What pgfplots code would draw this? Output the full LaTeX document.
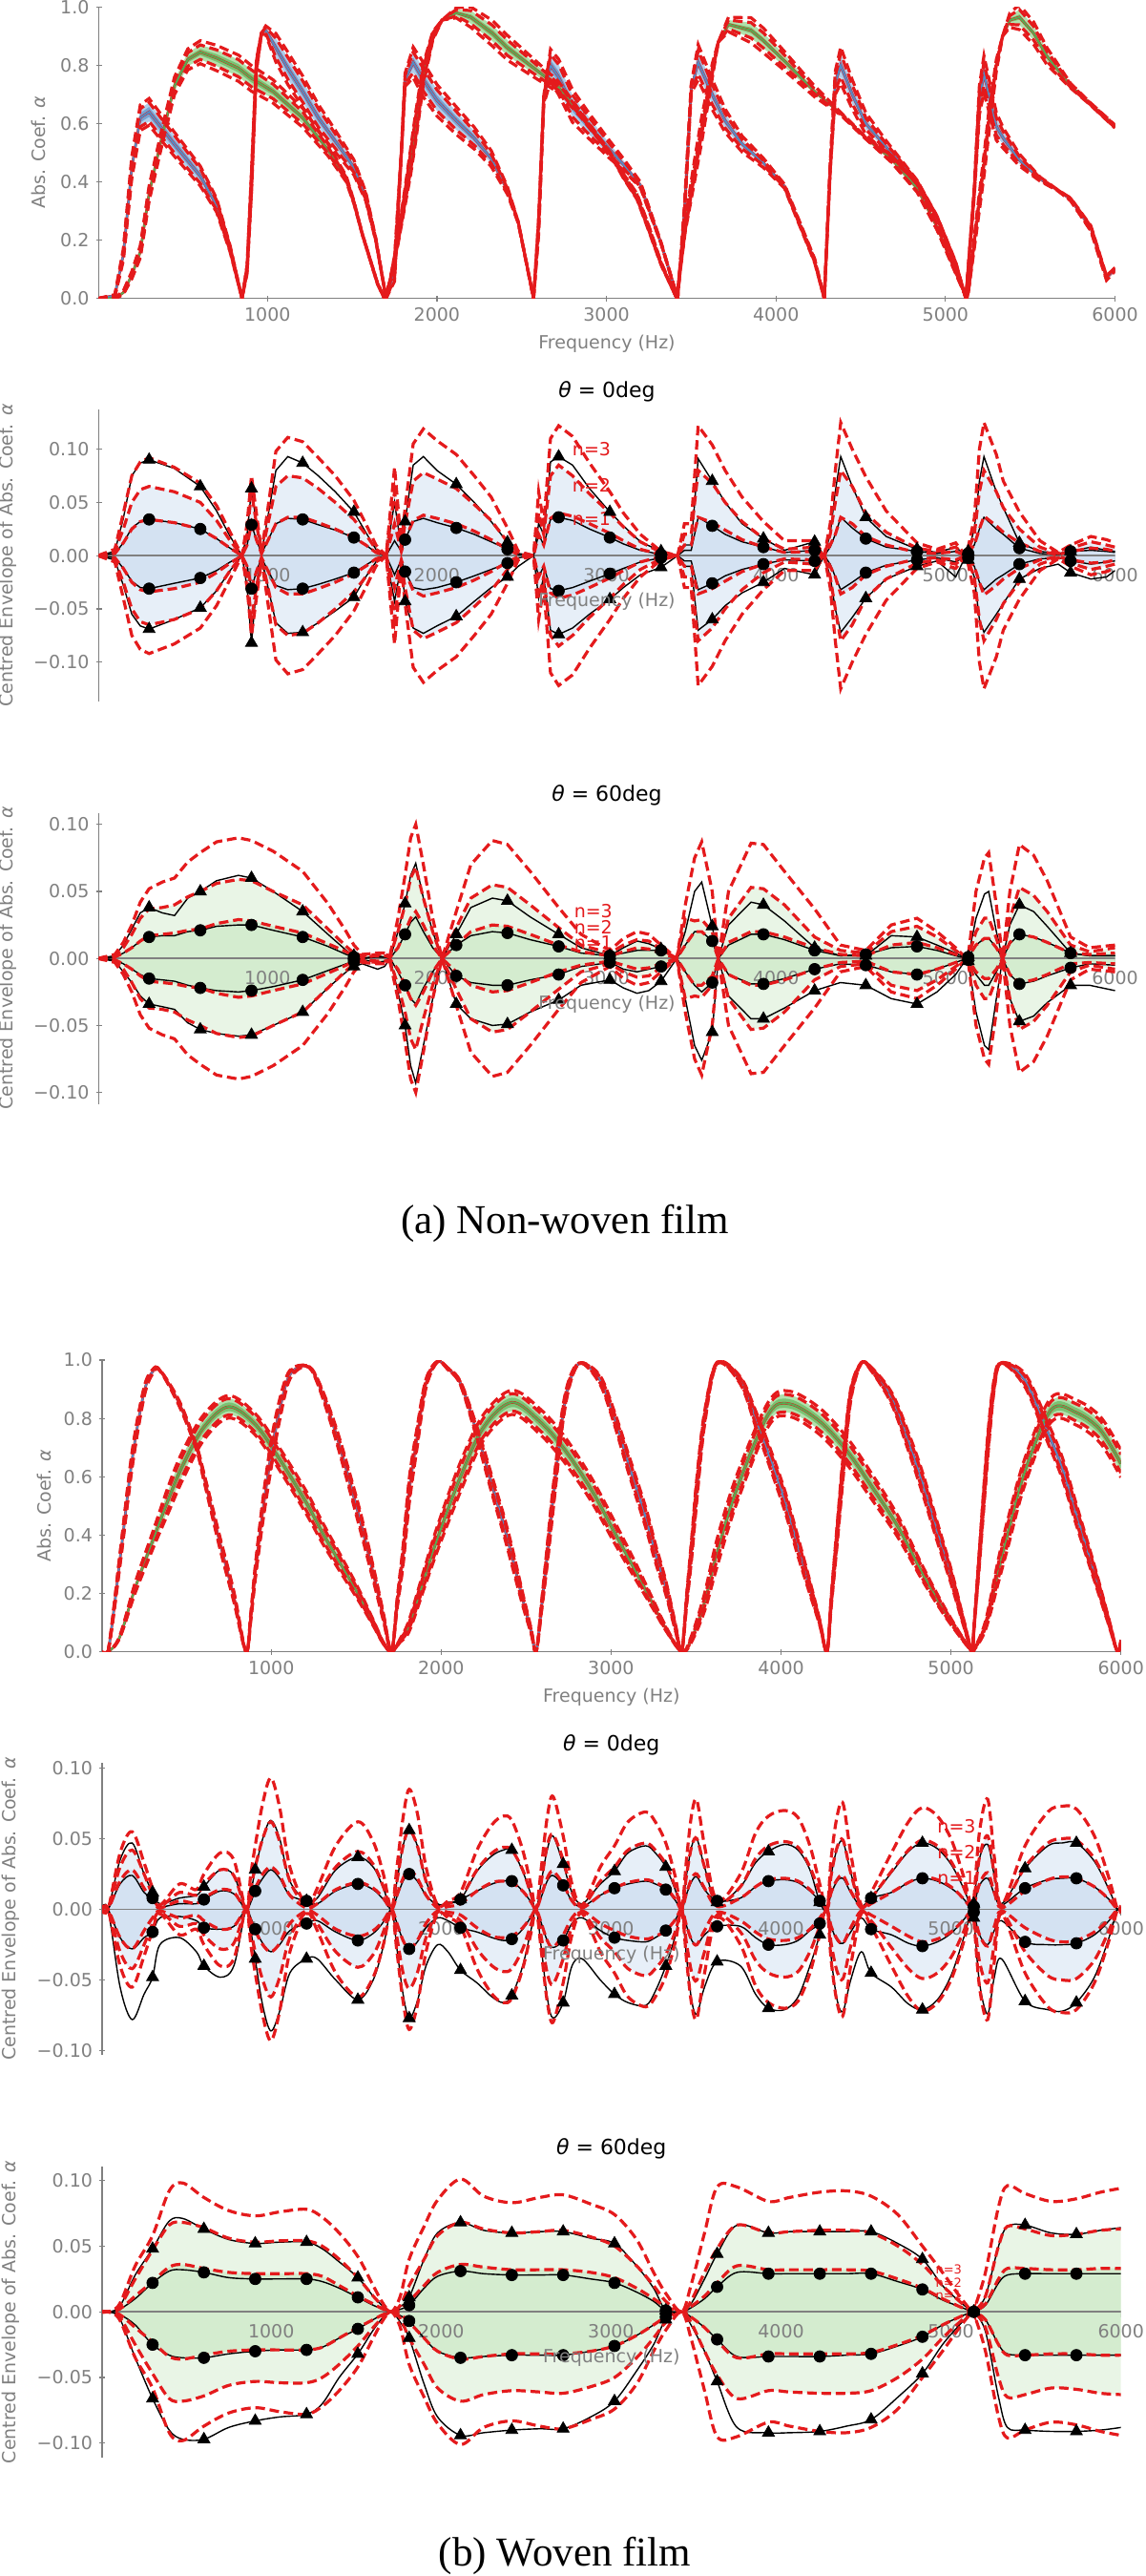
\documentclass[border=0pt]{standalone}
\usepackage{fontspec}
\setmainfont{DejaVu Sans}
\newfontfamily\capfont{Liberation Serif}
\usepackage{pgfplots}
\usepackage{pgfplotstable}
\pgfplotsset{compat=1.18}
\usepgfplotslibrary{fillbetween}

\definecolor{myred}{RGB}{228,26,28}
\definecolor{axgray}{RGB}{128,128,128}
\definecolor{bM}{RGB}{178,206,234}
\definecolor{bI}{RGB}{118,165,212}
\definecolor{bC}{RGB}{82,140,198}
\definecolor{gM}{RGB}{178,224,172}
\definecolor{gI}{RGB}{122,196,116}
\definecolor{gC}{RGB}{86,172,82}
\definecolor{bP}{RGB}{231,239,248}
\definecolor{bQ}{RGB}{212,226,242}
\definecolor{gP}{RGB}{233,245,230}
\definecolor{gQ}{RGB}{212,236,207}

\newcommand{\tk}{\fontsize{9.5}{11}\selectfont}
\newcommand{\ttl}{\fontsize{11}{13}\selectfont}
\newcommand{\capsz}{\capfont\fontsize{21.5}{24}\selectfont}

% columns: x  mean  d1 d2 d3 (n-sigma envelopes)  a1 a2 (upper black)  c1 c2 (lower black)  k (marker row)
\pgfplotstableread{
x m d1 d2 d3 a1 a2 c1 c2 k
0 0 0 0 0 0 0 0 0 1
100 0.01 0.002 0.004 0.006 0.002 0.004 -0.002 -0.004 0
150 0.15 0.012 0.025 0.040 0.012 0.035 -0.012 -0.028 0
200 0.45 0.025 0.050 0.075 0.026 0.075 -0.024 -0.055 0
250 0.62 0.032 0.062 0.088 0.032 0.087 -0.030 -0.066 0
302 0.64 0.034 0.065 0.092 0.034 0.090 -0.031 -0.069 1
450 0.53 0.031 0.060 0.083 0.031 0.082 -0.026 -0.060 0
604 0.42 0.025 0.050 0.068 0.025 0.065 -0.021 -0.049 1
700 0.32 0.016 0.033 0.047 0.016 0.042 -0.014 -0.033 0
780 0.17 0.007 0.014 0.022 0.007 0.018 -0.006 -0.014 0
850 0 0 0 0 0 0 0 0 0
880 0.10 0.010 0.020 0.030 0.010 0.020 -0.010 -0.030 0
906 0.40 0.030 0.060 0.075 0.029 0.063 -0.031 -0.082 1
935 0.80 0.015 0.030 0.040 0.015 0.030 -0.015 -0.030 0
965 0.91 0.002 0.003 0.004 0.002 0.003 -0.002 -0.004 0
990 0.92 0.010 0.020 0.030 0.010 0.025 -0.010 -0.020 0
1050 0.86 0.030 0.065 0.098 0.030 0.080 -0.028 -0.063 0
1120 0.79 0.036 0.075 0.111 0.035 0.093 -0.032 -0.073 0
1208 0.71 0.036 0.073 0.107 0.034 0.087 -0.031 -0.072 1
1300 0.62 0.031 0.063 0.092 0.029 0.075 -0.027 -0.063 0
1400 0.54 0.025 0.050 0.075 0.024 0.060 -0.022 -0.052 0
1510 0.45 0.017 0.034 0.052 0.017 0.041 -0.016 -0.039 1
1580 0.35 0.010 0.020 0.030 0.010 0.022 -0.009 -0.020 0
1640 0.20 0.003 0.006 0.010 0.003 0.006 -0.003 -0.006 0
1700 0 0 0 0 0 0 0 0 0
1750 0.10 0.030 0.060 0.083 0.014 0.050 -0.018 -0.043 0
1790 0.50 0.004 0.008 0.010 0.004 0.006 -0.004 -0.008 0
1812 0.75 0.015 0.030 0.045 0.015 0.032 -0.015 -0.043 1
1860 0.81 0.033 0.070 0.105 0.032 0.085 -0.030 -0.068 0
1920 0.75 0.038 0.078 0.119 0.035 0.093 -0.032 -0.073 0
2000 0.68 0.035 0.072 0.108 0.031 0.080 -0.030 -0.066 0
2114 0.61 0.030 0.063 0.095 0.026 0.067 -0.025 -0.057 1
2220 0.55 0.023 0.048 0.075 0.020 0.050 -0.019 -0.043 0
2320 0.48 0.015 0.033 0.055 0.013 0.032 -0.013 -0.030 0
2416 0.37 0.006 0.013 0.026 0.006 0.0125 -0.007 -0.020 1
2480 0.26 0.001 0.003 0.004 0.001 0.002 -0.002 -0.010 0
2570 0 0 0 0 0 0 0 0 0
2600 0.25 0.020 0.040 0.060 0.020 0.030 -0.020 -0.040 0
2630 0.68 0.010 0.020 0.030 0.010 0.020 -0.010 -0.020 0
2670 0.80 0.035 0.075 0.110 0.034 0.088 -0.031 -0.070 0
2718 0.76 0.040 0.085 0.122 0.036 0.093 -0.033 -0.074 1
2800 0.66 0.037 0.075 0.112 0.033 0.085 -0.030 -0.068 0
2900 0.59 0.030 0.058 0.087 0.025 0.063 -0.024 -0.055 0
3020 0.51 0.021 0.040 0.060 0.017 0.041 -0.017 -0.041 1
3100 0.46 0.014 0.027 0.040 0.011 0.028 -0.012 -0.030 0
3200 0.39 0.006 0.013 0.020 0.005 0.013 -0.006 -0.018 0
3322 0.19 0.001 0.003 0.004 0.001 0.004 -0.002 -0.011 1
3420 0 0 0 0 0 0 0 0 0
3460 0.30 0.010 0.020 0.030 0.005 0.010 -0.005 -0.010 0
3500 0.72 0.010 0.020 0.030 0.005 0.010 -0.005 -0.010 0
3541 0.81 0.036 0.080 0.122 0.036 0.091 -0.032 -0.070 0
3624 0.70 0.031 0.068 0.104 0.028 0.070 -0.026 -0.060 1
3700 0.61 0.024 0.050 0.080 0.020 0.050 -0.019 -0.047 0
3800 0.53 0.015 0.032 0.055 0.013 0.030 -0.013 -0.035 0
3926 0.465 0.008 0.016 0.032 0.008 0.016 -0.008 -0.025 1
4050 0.385 0.003 0.006 0.014 0.003 0.005 -0.004 -0.012 0
4228 0.13 0.004 0.008 0.014 0.005 0.013 -0.005 -0.018 1
4285 0 0 0 0 0 0 0 0 0
4320 0.45 0.010 0.020 0.030 0.008 0.020 -0.008 -0.020 0
4350 0.74 0.020 0.050 0.080 0.020 0.060 -0.020 -0.050 0
4382 0.80 0.036 0.080 0.125 0.036 0.093 -0.032 -0.072 0
4450 0.70 0.030 0.065 0.100 0.026 0.065 -0.025 -0.058 0
4530 0.60 0.018 0.040 0.074 0.016 0.036 -0.016 -0.040 1
4650 0.52 0.010 0.022 0.042 0.008 0.018 -0.009 -0.022 0
4832 0.40 0.003 0.007 0.012 0.004 0.006 -0.004 -0.010 1
4950 0.28 0.002 0.004 0.006 0.002 0.003 -0.002 -0.005 0
5060 0.12 0.004 0.008 0.012 0.004 0.008 -0.006 -0.020 0
5120 0 0 0 0 0 0 0 0 0
5134 0.10 0.003 0.005 0.008 0.002 0.004 -0.002 -0.004 1
5170 0.37 0.010 0.020 0.035 0.010 0.025 -0.010 -0.020 0
5200 0.68 0.025 0.060 0.100 0.025 0.070 -0.025 -0.060 0
5227 0.77 0.037 0.080 0.125 0.036 0.093 -0.032 -0.072 0
5300 0.59 0.028 0.060 0.095 0.025 0.060 -0.022 -0.055 0
5341 0.55 0.022 0.045 0.070 0.020 0.045 -0.018 -0.045 0
5436 0.475 0.012 0.025 0.041 0.007 0.012 -0.008 -0.022 1
5557 0.41 0.004 0.008 0.014 0.002 0.004 -0.003 -0.012 0
5665 0.37 0.001 0.002 0.003 0.001 0.002 -0.002 -0.008 0
5738 0.34 0.004 0.007 0.010 0.004 0.004 -0.005 -0.016 1
5858 0.24 0.007 0.013 0.018 0.005 0.008 -0.008 -0.022 0
5950 0.07 0.006 0.010 0.015 0.004 0.005 -0.006 -0.020 0
6000 0.10 0.004 0.008 0.012 0.003 0.004 -0.005 -0.014 0
}\NWa

\pgfplotstableread{
x m d1 d2 d3 a1 a2 c1 c2 k
0 0 0 0 0 0 0 0 0 1
100 0 0.001 0.002 0.003 0.001 0.002 -0.001 -0.002 0
150 0.02 0.004 0.008 0.012 0.004 0.010 -0.004 -0.010 0
200 0.08 0.008 0.018 0.025 0.008 0.022 -0.008 -0.018 0
250 0.16 0.013 0.030 0.042 0.013 0.034 -0.012 -0.028 0
302 0.36 0.017 0.037 0.052 0.016 0.038 -0.015 -0.034 1
380 0.56 0.018 0.038 0.057 0.017 0.034 -0.016 -0.036 0
452 0.73 0.019 0.040 0.060 0.017 0.032 -0.017 -0.038 0
530 0.82 0.021 0.046 0.072 0.020 0.045 -0.020 -0.048 0
604 0.845 0.022 0.050 0.079 0.021 0.050 -0.022 -0.053 1
700 0.825 0.026 0.056 0.087 0.024 0.058 -0.024 -0.056 0
829 0.79 0.029 0.059 0.090 0.025 0.062 -0.025 -0.058 0
906 0.755 0.028 0.058 0.088 0.025 0.060 -0.024 -0.057 1
1034 0.71 0.024 0.050 0.080 0.021 0.050 -0.021 -0.050 0
1208 0.62 0.019 0.040 0.065 0.016 0.035 -0.016 -0.040 1
1357 0.51 0.011 0.022 0.041 0.009 0.018 -0.009 -0.022 0
1465 0.41 0.005 0.009 0.020 0.003 0.006 -0.004 -0.010 0
1510 0.33 0.002 0.004 0.010 0.001 0.002 -0.002 -0.006 1
1560 0.22 0.001 0.002 0.003 0 0 -0.001 -0.004 0
1650 0.05 0.002 0.003 0.004 0.001 0.002 -0.003 -0.008 0
1691 0 0.002 0.003 0.004 0.001 0.001 -0.002 -0.006 0
1724 0.06 0.001 0.002 0.003 0 0 0 0 0
1770 0.20 0.008 0.020 0.030 0.008 0.020 -0.010 -0.025 0
1812 0.35 0.020 0.040 0.062 0.018 0.041 -0.020 -0.050 1
1845 0.47 0.030 0.060 0.090 0.027 0.062 -0.030 -0.080 0
1875 0.59 0.035 0.068 0.100 0.031 0.071 -0.034 -0.093 0
1920 0.77 0.025 0.045 0.070 0.020 0.045 -0.022 -0.065 0
1975 0.90 0.010 0.020 0.030 0.008 0.020 -0.010 -0.030 0
2030 0.955 0 0 0 0 0 0 0 0
2114 0.98 0.010 0.023 0.035 0.010 0.018 -0.013 -0.034 1
2200 0.965 0.020 0.045 0.070 0.017 0.038 -0.018 -0.045 0
2327 0.91 0.025 0.055 0.088 0.020 0.045 -0.020 -0.050 0
2416 0.86 0.024 0.053 0.085 0.019 0.043 -0.020 -0.049 1
2550 0.80 0.018 0.040 0.065 0.014 0.031 -0.016 -0.040 0
2718 0.725 0.010 0.023 0.038 0.009 0.018 -0.012 -0.031 1
2850 0.63 0.005 0.010 0.018 0.004 0.008 -0.006 -0.020 0
3020 0.50 0.002 0.004 0.006 0.002 0.002 -0.003 -0.016 1
3100 0.42 0.005 0.010 0.015 0.004 0.008 -0.008 -0.022 0
3180 0.35 0.008 0.014 0.020 0.006 0.013 -0.010 -0.026 0
3250 0.24 0.007 0.013 0.018 0.006 0.011 -0.008 -0.024 0
3322 0.12 0.004 0.007 0.010 0.006 0.007 -0.006 -0.017 1
3415 0 0 0 0 0 0 0 0 0
3465 0.25 0.010 0.030 0.040 0.010 0.020 -0.010 -0.030 0
3520 0.44 0.020 0.028 0.075 0.020 0.050 -0.020 -0.065 0
3562 0.58 0.020 0.029 0.087 0.020 0.057 -0.025 -0.076 0
3624 0.78 0.013 0.020 0.050 0.013 0.024 -0.018 -0.055 1
3660 0.88 0 0 0 0 0 0 0 0
3720 0.94 0.012 0.030 0.050 0.010 0.025 -0.012 -0.028 0
3853 0.92 0.020 0.053 0.086 0.018 0.042 -0.019 -0.045 0
3926 0.885 0.020 0.052 0.085 0.018 0.040 -0.019 -0.045 1
4050 0.815 0.016 0.040 0.065 0.014 0.028 -0.015 -0.037 0
4228 0.71 0.008 0.016 0.037 0.006 0.008 -0.008 -0.024 1
4380 0.635 0.003 0.006 0.010 0.002 0.002 -0.004 -0.018 0
4530 0.55 0.002 0.004 0.006 0.003 0.002 -0.005 -0.020 1
4680 0.48 0.010 0.020 0.025 0.008 0.017 -0.010 -0.030 0
4832 0.38 0.012 0.024 0.030 0.009 0.016 -0.012 -0.034 1
4950 0.245 0.008 0.016 0.020 0.006 0.010 -0.008 -0.025 0
5060 0.09 0.003 0.006 0.008 0.002 0.004 -0.003 -0.012 0
5125 0 0 0 0 0 0 0 0 0
5134 0.02 0.001 0.001 0.002 0.001 0.001 -0.001 -0.002 1
5180 0.24 0.010 0.020 0.050 0.010 0.030 -0.012 -0.040 0
5230 0.47 0.015 0.030 0.075 0.015 0.048 -0.020 -0.065 0
5255 0.60 0.015 0.030 0.079 0.015 0.050 -0.020 -0.068 0
5300 0.80 0.008 0.015 0.040 0.008 0.020 -0.010 -0.030 0
5337 0.90 0 0 0 0 0 0 0 0
5380 0.955 0.012 0.030 0.050 0.011 0.025 -0.012 -0.030 0
5436 0.965 0.018 0.053 0.085 0.018 0.040 -0.019 -0.047 1
5520 0.91 0.016 0.047 0.077 0.016 0.035 -0.017 -0.043 0
5600 0.83 0.012 0.035 0.058 0.012 0.024 -0.013 -0.033 0
5738 0.73 0.004 0.010 0.016 0.004 0.004 -0.007 -0.020 1
5850 0.67 0.003 0.005 0.008 0.002 0.002 -0.004 -0.020 0
6000 0.59 0.004 0.008 0.010 0.002 0.002 -0.005 -0.024 0
}\NWb

\pgfplotstableread{
x m d1 d2 d3 a1 a2 c1 c2 k
0 0 0 0 0 0 0 0 0 1
40 0 0 0 0 0 0 0 0 0
111 0.32 0.020 0.030 0.040 0.018 0.035 -0.020 -0.055 0
182 0.66 0.028 0.042 0.055 0.024 0.047 -0.028 -0.078 0
252 0.89 0.015 0.025 0.033 0.012 0.025 -0.020 -0.060 0
302 0.96 0.006 0.010 0.015 0.008 0.012 -0.016 -0.048 1
345 0.965 0.001 0.002 0.003 0.002 0.004 -0.006 -0.025 0
460 0.85 0.006 0.012 0.018 0.004 0.008 -0.005 -0.020 0
560 0.70 0.004 0.010 0.014 0.004 0.010 -0.008 -0.030 0
604 0.60 0.008 0.018 0.025 0.007 0.016 -0.013 -0.040 1
700 0.37 0.014 0.028 0.040 0.013 0.028 -0.014 -0.048 0
780 0.19 0.012 0.024 0.035 0.011 0.024 -0.012 -0.040 0
852 0 0 0 0 0 0 0 0 0
880 0.12 0.008 0.015 0.025 0.005 0.012 -0.006 -0.015 0
906 0.27 0.015 0.030 0.045 0.013 0.028 -0.014 -0.035 1
950 0.48 0.025 0.050 0.075 0.022 0.050 -0.024 -0.068 0
998 0.67 0.030 0.062 0.093 0.028 0.063 -0.030 -0.086 0
1050 0.83 0.024 0.048 0.072 0.022 0.050 -0.025 -0.072 0
1110 0.95 0.010 0.020 0.030 0.010 0.020 -0.015 -0.045 0
1208 0.98 0.001 0.002 0.003 0.006 0.006 -0.010 -0.035 1
1271 0.93 0.004 0.010 0.015 0.004 0.008 -0.008 -0.035 0
1380 0.75 0.014 0.030 0.045 0.013 0.028 -0.016 -0.050 0
1510 0.48 0.019 0.041 0.062 0.018 0.037 -0.022 -0.064 1
1600 0.27 0.015 0.032 0.048 0.014 0.030 -0.017 -0.050 0
1660 0.12 0.008 0.016 0.025 0.007 0.015 -0.009 -0.026 0
1708 0 0 0 0 0 0 0 0 0
1740 0.16 0.010 0.020 0.030 0.009 0.020 -0.010 -0.028 0
1776 0.33 0.022 0.045 0.065 0.020 0.045 -0.022 -0.060 0
1812 0.55 0.028 0.056 0.085 0.025 0.056 -0.028 -0.077 1
1860 0.74 0.022 0.045 0.068 0.020 0.045 -0.023 -0.065 0
1911 0.92 0.010 0.020 0.030 0.010 0.020 -0.013 -0.040 0
1979 0.995 0.001 0.002 0.003 0.003 0.004 -0.006 -0.025 0
2040 0.97 0.002 0.004 0.006 0.004 0.005 -0.008 -0.030 0
2114 0.92 0.004 0.008 0.012 0.007 0.007 -0.013 -0.043 1
2211 0.75 0.013 0.028 0.042 0.013 0.027 -0.016 -0.052 0
2300 0.57 0.019 0.040 0.060 0.018 0.038 -0.020 -0.062 0
2366 0.44 0.020 0.044 0.066 0.020 0.042 -0.022 -0.066 0
2416 0.33 0.019 0.042 0.063 0.020 0.042 -0.021 -0.061 1
2480 0.18 0.013 0.028 0.042 0.013 0.027 -0.014 -0.040 0
2530 0.07 0.005 0.010 0.016 0.005 0.010 -0.005 -0.014 0
2559 0 0 0 0 0 0 0 0 0
2590 0.15 0.010 0.020 0.030 0.009 0.020 -0.010 -0.028 0
2624 0.33 0.022 0.045 0.065 0.020 0.042 -0.022 -0.062 0
2658 0.52 0.027 0.053 0.080 0.024 0.052 -0.027 -0.077 0
2718 0.82 0.018 0.035 0.052 0.017 0.032 -0.022 -0.066 1
2770 0.95 0.006 0.012 0.018 0.006 0.012 -0.010 -0.040 0
2830 0.99 0.001 0.002 0.003 0.002 0.004 -0.006 -0.035 0
2937 0.93 0.010 0.020 0.030 0.010 0.018 -0.015 -0.050 0
3020 0.80 0.015 0.030 0.045 0.015 0.027 -0.020 -0.060 1
3100 0.65 0.019 0.042 0.062 0.018 0.040 -0.022 -0.066 0
3204 0.46 0.021 0.047 0.069 0.020 0.045 -0.023 -0.068 0
3260 0.34 0.019 0.042 0.062 0.018 0.040 -0.020 -0.058 0
3322 0.22 0.015 0.032 0.047 0.014 0.030 -0.015 -0.040 1
3380 0.08 0.007 0.015 0.022 0.006 0.013 -0.007 -0.018 0
3415 0 0 0 0 0 0 0 0 0
3445 0.18 0.012 0.025 0.037 0.011 0.025 -0.012 -0.035 0
3475 0.36 0.022 0.045 0.068 0.020 0.045 -0.022 -0.065 0
3505 0.56 0.025 0.050 0.077 0.023 0.050 -0.025 -0.074 0
3550 0.80 0.015 0.030 0.045 0.014 0.030 -0.018 -0.055 0
3624 0.99 0.002 0.004 0.006 0.006 0.005 -0.012 -0.037 1
3761 0.93 0.008 0.016 0.025 0.008 0.016 -0.012 -0.040 0
3850 0.80 0.016 0.036 0.054 0.016 0.033 -0.020 -0.060 0
3926 0.68 0.021 0.045 0.066 0.020 0.041 -0.025 -0.070 1
4021 0.52 0.022 0.048 0.070 0.021 0.046 -0.025 -0.071 0
4100 0.36 0.020 0.044 0.065 0.019 0.042 -0.022 -0.062 0
4170 0.22 0.014 0.030 0.045 0.013 0.028 -0.015 -0.040 0
4228 0.10 0.006 0.012 0.018 0.006 0.005 -0.010 -0.018 1
4270 0 0 0 0 0 0 0 0 0
4295 0.17 0.012 0.024 0.036 0.011 0.024 -0.012 -0.034 0
4330 0.40 0.021 0.044 0.066 0.020 0.043 -0.022 -0.064 0
4365 0.63 0.024 0.049 0.075 0.022 0.048 -0.024 -0.072 0
4410 0.88 0.013 0.026 0.040 0.012 0.026 -0.016 -0.050 0
4472 0.99 0.001 0.002 0.003 0.002 0.003 -0.006 -0.030 0
4530 0.97 0.004 0.008 0.012 0.008 0.008 -0.014 -0.045 1
4650 0.87 0.012 0.027 0.040 0.012 0.026 -0.018 -0.055 0
4750 0.72 0.019 0.042 0.062 0.019 0.041 -0.024 -0.067 0
4832 0.58 0.023 0.049 0.072 0.022 0.047 -0.026 -0.071 1
4920 0.41 0.021 0.045 0.066 0.020 0.043 -0.023 -0.064 0
5000 0.26 0.016 0.034 0.050 0.015 0.032 -0.017 -0.047 0
5070 0.11 0.008 0.017 0.025 0.008 0.016 -0.008 -0.022 0
5125 0 0 0 0 0 0 0 0 0
5134 0.07 0.002 0.004 0.006 0.002 0.004 -0.002 -0.006 1
5168 0.33 0.018 0.037 0.055 0.017 0.036 -0.018 -0.052 0
5216 0.70 0.026 0.052 0.078 0.022 0.046 -0.025 -0.074 0
5255 0.92 0.012 0.025 0.037 0.011 0.024 -0.015 -0.048 0
5298 0.99 0.001 0.002 0.003 0.003 0.004 -0.008 -0.035 0
5436 0.93 0.013 0.030 0.045 0.015 0.029 -0.023 -0.065 1
5571 0.75 0.021 0.047 0.069 0.021 0.045 -0.025 -0.071 0
5655 0.63 0.023 0.050 0.073 0.022 0.047 -0.025 -0.072 0
5738 0.47 0.022 0.049 0.071 0.022 0.047 -0.024 -0.066 1
5844 0.27 0.016 0.036 0.052 0.016 0.034 -0.018 -0.048 0
5930 0.10 0.007 0.015 0.022 0.007 0.014 -0.008 -0.020 0
5980 0 0 0 0 0 0 0 0 0
6000 0.04 0.001 0.002 0.003 0.001 0.002 -0.001 -0.002 0
}\Wa

\pgfplotstableread{
x m d1 d2 d3 a1 a2 c1 c2 k
0 0 0 0 0 0 0 0 0 1
40 0 0 0 0 0 0 0 0 0
108 0.05 0.002 0.004 0.006 0.002 0.004 -0.002 -0.005 0
200 0.22 0.012 0.025 0.035 0.010 0.028 -0.010 -0.035 0
302 0.38 0.023 0.047 0.058 0.022 0.048 -0.025 -0.066 1
400 0.53 0.034 0.066 0.092 0.031 0.069 -0.033 -0.090 0
480 0.64 0.036 0.068 0.098 0.032 0.071 -0.035 -0.097 0
604 0.77 0.033 0.064 0.087 0.030 0.063 -0.035 -0.097 1
750 0.84 0.030 0.056 0.077 0.026 0.055 -0.032 -0.088 0
906 0.78 0.029 0.053 0.073 0.025 0.052 -0.030 -0.083 1
1050 0.66 0.029 0.054 0.076 0.025 0.053 -0.029 -0.080 0
1208 0.51 0.029 0.054 0.078 0.025 0.053 -0.029 -0.078 1
1300 0.41 0.027 0.050 0.072 0.023 0.048 -0.027 -0.070 0
1400 0.31 0.020 0.040 0.060 0.018 0.038 -0.020 -0.050 0
1510 0.20 0.012 0.026 0.042 0.011 0.026 -0.013 -0.032 1
1600 0.10 0.006 0.012 0.020 0.005 0.012 -0.006 -0.014 0
1660 0.03 0.002 0.004 0.006 0.002 0.004 -0.002 -0.004 0
1708 0 0 0 0 0 0 0 0 0
1760 0.04 0.002 0.005 0.012 0.002 0.004 -0.003 -0.008 0
1812 0.09 0.008 0.020 0.040 0.005 0.011 -0.007 -0.020 1
1900 0.25 0.020 0.040 0.065 0.018 0.040 -0.020 -0.055 0
1979 0.39 0.030 0.058 0.085 0.027 0.060 -0.030 -0.080 0
2114 0.60 0.036 0.068 0.101 0.031 0.068 -0.035 -0.094 1
2250 0.77 0.034 0.063 0.088 0.029 0.062 -0.034 -0.092 0
2416 0.855 0.032 0.060 0.083 0.028 0.060 -0.033 -0.090 1
2580 0.79 0.032 0.061 0.087 0.028 0.061 -0.033 -0.089 0
2718 0.70 0.032 0.062 0.089 0.028 0.061 -0.033 -0.089 1
2880 0.56 0.030 0.057 0.082 0.025 0.056 -0.030 -0.080 0
3020 0.41 0.026 0.050 0.074 0.022 0.052 -0.026 -0.068 1
3150 0.27 0.018 0.035 0.055 0.015 0.035 -0.018 -0.045 0
3250 0.16 0.010 0.020 0.030 0.008 0.018 -0.010 -0.025 0
3322 0.08 0.004 0.008 0.014 0.001 0.001 -0.004 -0.006 1
3415 0 0 0 0 0 0 0 0 0
3470 0.04 0.004 0.008 0.020 0.003 0.006 -0.004 -0.010 0
3550 0.17 0.012 0.030 0.060 0.010 0.025 -0.012 -0.030 0
3624 0.34 0.022 0.048 0.095 0.019 0.044 -0.021 -0.053 1
3741 0.56 0.035 0.066 0.095 0.030 0.066 -0.034 -0.088 0
3926 0.815 0.032 0.060 0.084 0.029 0.060 -0.034 -0.092 1
4050 0.85 0.032 0.061 0.087 0.029 0.061 -0.034 -0.092 0
4228 0.79 0.032 0.062 0.091 0.029 0.061 -0.034 -0.091 1
4386 0.69 0.032 0.062 0.092 0.029 0.061 -0.033 -0.087 0
4530 0.57 0.031 0.060 0.088 0.029 0.061 -0.032 -0.082 1
4687 0.43 0.025 0.050 0.074 0.023 0.052 -0.026 -0.065 0
4832 0.27 0.018 0.036 0.050 0.017 0.040 -0.019 -0.047 1
4950 0.15 0.010 0.020 0.030 0.009 0.020 -0.010 -0.025 0
5050 0.06 0.004 0.008 0.012 0.004 0.008 -0.004 -0.010 0
5125 0 0 0 0 0 0 0 0 0
5134 0.005 0 0 0.001 0 0 0 0 1
5203 0.09 0.006 0.012 0.030 0.005 0.012 -0.006 -0.015 0
5280 0.28 0.025 0.050 0.080 0.022 0.050 -0.025 -0.065 0
5332 0.40 0.033 0.065 0.096 0.028 0.065 -0.032 -0.088 0
5436 0.62 0.033 0.063 0.090 0.029 0.066 -0.033 -0.090 1
5590 0.83 0.032 0.058 0.084 0.029 0.060 -0.033 -0.091 0
5738 0.82 0.032 0.059 0.086 0.029 0.059 -0.033 -0.091 1
5880 0.76 0.033 0.062 0.091 0.029 0.062 -0.033 -0.090 0
6000 0.645 0.033 0.063 0.094 0.029 0.064 -0.033 -0.088 0
}\Wb

\pgfplotsset{
  lsty/.style={},
  mybase/.style={scale only axis, xmin=5, xmax=6000,
    xtick={1000,2000,3000,4000,5000,6000},
    xticklabels={1000,2000,3000,4000,5000,6000},
    tick style={draw=axgray, line width=0.6pt},
    major tick length=3pt,
    tick label style={font=\tk, text=axgray},
    tick align=outside},
  absax/.style={mybase, axis x line=bottom, axis y line=left,
    axis line style={-, draw=axgray, line width=0.7pt},
    x axis line style={-}, y axis line style={-},
    ymin=0, ymax=1,
    ytick={0,0.2,0.4,0.6,0.8,1}, yticklabels={0.0,0.2,0.4,0.6,0.8,1.0}},
  envax/.style={mybase, axis x line=middle, axis y line=left,
    axis line style={-, draw=axgray, line width=0.7pt},
    x axis line style={-}, y axis line style={-},
    xtick align=outside,
    hide obscured x ticks=false, hide obscured y ticks=false,
    ytick={-0.1,-0.05,0,0.05,0.1},
    yticklabels={−0.10,−0.05,0.00,0.05,0.10}},
  rd/.style={myred, line width=1.6pt, dash pattern=on 5pt off 2.5pt},
  rde/.style={myred, line width=1.6pt, dash pattern=on 5pt off 2.5pt},
}

% band in the absorption panels: table, prefix, light, core
\newcommand{\bandfill}[4]{%
  \addplot[lsty, draw=none, name path=#2u2] table[x=x, y expr=\thisrow{m}+0.5*\thisrow{d2}]{#1};
  \addplot[lsty, draw=none, name path=#2l2] table[x=x, y expr=\thisrow{m}-0.5*\thisrow{d2}]{#1};
  \addplot[draw=none, fill=#3] fill between[of=#2u2 and #2l2];
  \addplot[lsty, draw=none, name path=#2u1] table[x=x, y expr=\thisrow{m}+0.5*\thisrow{d1}]{#1};
  \addplot[lsty, draw=none, name path=#2l1] table[x=x, y expr=\thisrow{m}-0.5*\thisrow{d1}]{#1};
  \addplot[draw=none, fill=#4] fill between[of=#2u1 and #2l1];
}
\newcommand{\banddash}[1]{%
  \addplot[lsty, rd] table[x=x, y expr=\thisrow{m}+0.5*\thisrow{d3}]{#1};
  \addplot[lsty, rd] table[x=x, y expr=\thisrow{m}-0.5*\thisrow{d3}]{#1};
  \addplot[lsty, rd] table[x=x, y expr=\thisrow{m}+0.5*\thisrow{d2}]{#1};
  \addplot[lsty, rd] table[x=x, y expr=\thisrow{m}-0.5*\thisrow{d2}]{#1};
}
% envelope panels: table, pale outer, pale inner, prefix
\newcommand{\envplots}[4]{%
  \addplot[lsty, draw=none, name path=#4u2] table[x=x, y=d2]{#1};
  \addplot[lsty, draw=none, name path=#4l2] table[x=x, y expr=-\thisrow{d2}]{#1};
  \addplot[draw=none, fill=#2] fill between[of=#4u2 and #4l2];
  \addplot[lsty, draw=none, name path=#4u1] table[x=x, y=d1]{#1};
  \addplot[lsty, draw=none, name path=#4l1] table[x=x, y expr=-\thisrow{d1}]{#1};
  \addplot[draw=none, fill=#3] fill between[of=#4u1 and #4l1];
  \addplot[axgray, line width=0.8pt] coordinates {(5,0) (6000,0)};
  \addplot[lsty, black, line width=0.7pt] table[x=x, y=a1]{#1};
  \addplot[lsty, black, line width=0.7pt] table[x=x, y=a2]{#1};
  \addplot[lsty, black, line width=0.7pt] table[x=x, y=c1]{#1};
  \addplot[lsty, black, line width=0.7pt] table[x=x, y=c2]{#1};
  \addplot[only marks, mark=*, mark size=3pt, black, restrict expr to domain={\thisrow{k}}{0.5:1.5}] table[x=x, y=a1]{#1};
  \addplot[only marks, mark=*, mark size=3pt, black, restrict expr to domain={\thisrow{k}}{0.5:1.5}] table[x=x, y=c1]{#1};
  \addplot[only marks, mark=triangle*, mark size=3.6pt, black, restrict expr to domain={\thisrow{k}}{0.5:1.5}] table[x=x, y=a2]{#1};
  \addplot[only marks, mark=triangle*, mark size=3.6pt, black, restrict expr to domain={\thisrow{k}}{0.5:1.5}] table[x=x, y=c2]{#1};
  \addplot[lsty, rde] table[x=x, y=d1]{#1};
  \addplot[lsty, rde] table[x=x, y expr=-\thisrow{d1}]{#1};
  \addplot[lsty, rde] table[x=x, y=d2]{#1};
  \addplot[lsty, rde] table[x=x, y expr=-\thisrow{d2}]{#1};
  \addplot[lsty, rde] table[x=x, y=d3]{#1};
  \addplot[lsty, rde] table[x=x, y expr=-\thisrow{d3}]{#1};
}
\newcommand{\absplots}[2]{%
  \addplot[lsty, myred, line width=1.4pt] table[x=x, y=m]{#1};
  \addplot[lsty, myred, line width=1.4pt] table[x=x, y=m]{#2};
  \bandfill{#1}{b}{bM}{bI}
  \bandfill{#2}{g}{gM}{gI}
  \addplot[lsty, bC, line width=1.0pt] table[x=x, y=m]{#1};
  \addplot[lsty, gC, line width=1.0pt] table[x=x, y=m]{#2};
  \banddash{#1}
  \banddash{#2}
}

\begin{document}
\begin{tikzpicture}

% ---------- (a) non-woven ----------
\begin{axis}[absax, at={(51.75pt,-156.35pt)}, anchor=south west, width=532.5pt, height=152.7pt]
  \absplots{\NWa}{\NWb}
\end{axis}
\node[rotate=90, text=axgray, font=\tk] at (20pt,-80pt) {Abs. Coef. {\itshape α}};
\node[text=axgray, font=\tk] at (318pt,-180pt) {Frequency (Hz)};

\node[font=\ttl] at (318pt,-205pt) {{\itshape θ} = 0deg};
\begin{axis}[envax, at={(51.75pt,-367.5pt)}, anchor=south west, width=532.5pt, height=152.85pt, ymin=-0.137, ymax=0.137]
  \envplots{\NWa}{bP}{bQ}{p}
  \node[myred, anchor=west, font=\tk] at (axis cs:2760,0.100) {n=3};
  \node[myred, anchor=west, font=\tk] at (axis cs:2760,0.066) {n=2};
  \node[myred, anchor=west, font=\tk] at (axis cs:2760,0.035) {n=1};
\end{axis}
\node[rotate=90, text=axgray, font=\tk] at (4pt,-291pt) {Centred Envelope of Abs. Coef. {\itshape α}};
\node[text=axgray, font=\tk] at (318pt,-315pt) {Frequency (Hz)};

\node[font=\ttl] at (318pt,-416.5pt) {{\itshape θ} = 60deg};
\begin{axis}[envax, at={(51.75pt,-578.35pt)}, anchor=south west, width=532.5pt, height=152.5pt, ymin=-0.1086, ymax=0.1086]
  \envplots{\NWb}{gP}{gQ}{q}
  \node[myred, anchor=west, font=\tk] at (axis cs:2770,0.035) {n=3};
  \node[myred, anchor=west, font=\tk] at (axis cs:2770,0.023) {n=2};
  \node[myred, anchor=west, font=\tk] at (axis cs:2770,0.012) {n=1};
\end{axis}
\node[rotate=90, text=axgray, font=\tk] at (4pt,-502pt) {Centred Envelope of Abs. Coef. {\itshape α}};
\node[text=axgray, font=\tk] at (318pt,-526.3pt) {Frequency (Hz)};

\node[font=\capsz] at (296pt,-641pt) {(a) Non-woven film};

% ---------- (b) woven ----------
\begin{axis}[absax, at={(53.5pt,-865.35pt)}, anchor=south west, width=533.85pt, height=152.85pt, lsty/.style={smooth, tension=0.55}]
  \absplots{\Wa}{\Wb}
\end{axis}
\node[rotate=90, text=axgray, font=\tk] at (23pt,-789pt) {Abs. Coef. {\itshape α}};
\node[text=axgray, font=\tk] at (320.4pt,-889pt) {Frequency (Hz)};

\node[font=\ttl] at (320.4pt,-914pt) {{\itshape θ} = 0deg};
\begin{axis}[envax, at={(53.5pt,-1076.5pt)}, anchor=south west, width=533.85pt, height=152.85pt, ymin=-0.103, ymax=0.1035, lsty/.style={smooth, tension=0.55}]
  \envplots{\Wa}{bP}{bQ}{r}
  \node[myred, anchor=west, font=\tk] at (axis cs:4881,0.0587) {n=3};
  \node[myred, anchor=west, font=\tk] at (axis cs:4881,0.0406) {n=2};
  \node[myred, anchor=west, font=\tk] at (axis cs:4881,0.0226) {n=1};
\end{axis}
\node[rotate=90, text=axgray, font=\tk] at (5.75pt,-1000pt) {Centred Envelope of Abs. Coef. {\itshape α}};
\node[text=axgray, font=\tk] at (320.4pt,-1024pt) {Frequency (Hz)};

\node[font=\ttl] at (320.4pt,-1125.85pt) {{\itshape θ} = 60deg};
\begin{axis}[envax, at={(53.5pt,-1287.5pt)}, anchor=south west, width=533.85pt, height=152.5pt, ymin=-0.111, ymax=0.1105, lsty/.style={smooth, tension=0.55}]
  \envplots{\Wb}{gP}{gQ}{s}
  \node[myred, anchor=west, font=\fontsize{6.5}{7}\selectfont, inner sep=0.5pt] at (axis cs:4902,0.032) {n=3};
  \node[myred, anchor=west, font=\fontsize{6.5}{7}\selectfont, inner sep=0.5pt] at (axis cs:4902,0.0225) {n=2};
  \node[myred, anchor=west, font=\fontsize{6.5}{7}\selectfont, inner sep=0.5pt] at (axis cs:4902,0.013) {n=1};
\end{axis}
\node[rotate=90, text=axgray, font=\tk] at (5.75pt,-1211.25pt) {Centred Envelope of Abs. Coef. {\itshape α}};
\node[text=axgray, font=\tk] at (320.4pt,-1235pt) {Frequency (Hz)};

\node[font=\capsz] at (296pt,-1339pt) {(b) Woven film};

\pgfresetboundingbox
\path[use as bounding box] (0,0) rectangle (600pt,-1349.5pt);
\end{tikzpicture}
\end{document}
